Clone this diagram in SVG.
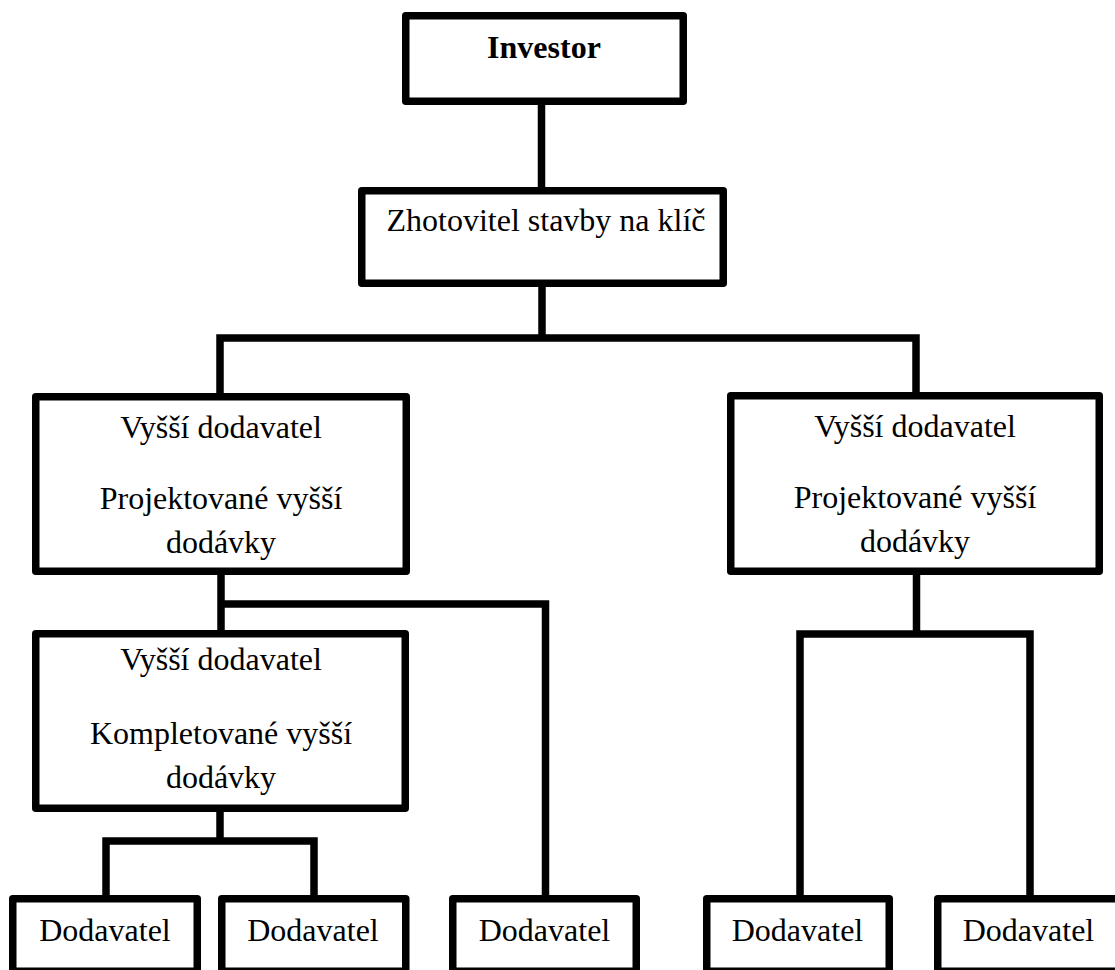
<svg xmlns="http://www.w3.org/2000/svg" width="1115" height="970" viewBox="0 0 1115 970">
<style>
.box{fill:#fff;stroke:#000;stroke-width:7.5;stroke-linejoin:round}
.con{fill:none;stroke:#000;stroke-width:7.5;stroke-linejoin:miter;stroke-linecap:butt}
text{font-family:"Liberation Serif","Times New Roman",serif;font-size:32px;fill:#000;text-anchor:middle}
.b{font-weight:bold}
</style>
<rect width="1115" height="970" fill="#fff"/>
<g id="connectors">
<path class="con" d="M541.5,101 V191"/>
<path class="con" d="M542,283 V338"/>
<path class="con" d="M220,397 V338 H916 V396"/>
<path class="con" d="M221,571 V634"/>
<path class="con" d="M221,604 H545.5 V899"/>
<path class="con" d="M220,808 V841"/>
<path class="con" d="M106,899 V841 H314 V899"/>
<path class="con" d="M916.5,571 V634"/>
<path class="con" d="M800,899 V634 H1030 V899"/>
</g>
<g id="investor">
<rect class="box" x="405.75" y="15.75" width="277.5" height="85.5"/>
<text class="b" x="544" y="58">Investor</text>
</g>
<g id="zhotovitel">
<rect class="box" x="361.75" y="190.75" width="361.5" height="92.5"/>
<text x="546" y="231">Zhotovitel stavby na klíč</text>
</g>
<g id="vyssi-a">
<rect class="box" x="35.75" y="396.75" width="370.5" height="174.5"/>
<text x="221" y="438">Vyšší dodavatel</text>
<text x="221" y="509">Projektované vyšší</text>
<text x="221" y="553">dodávky</text>
</g>
<g id="vyssi-b">
<rect class="box" x="730.75" y="395.75" width="368.5" height="175.5"/>
<text x="915" y="437">Vyšší dodavatel</text>
<text x="915" y="508">Projektované vyšší</text>
<text x="915" y="552">dodávky</text>
</g>
<g id="vyssi-c">
<rect class="box" x="35.75" y="633.75" width="369.5" height="174.5"/>
<text x="221" y="670">Vyšší dodavatel</text>
<text x="221" y="744">Kompletované vyšší</text>
<text x="221" y="788">dodávky</text>
</g>
<g id="dodavatel-1">
<rect class="box" x="12.75" y="898.75" width="184.5" height="72.5"/>
<text x="105" y="941">Dodavatel</text>
</g>
<g id="dodavatel-2">
<rect class="box" x="221.75" y="898.75" width="184" height="72.5"/>
<text x="313" y="941">Dodavatel</text>
</g>
<g id="dodavatel-3">
<rect class="box" x="452.75" y="898.75" width="183.5" height="72.5"/>
<text x="544.5" y="941">Dodavatel</text>
</g>
<g id="dodavatel-4">
<rect class="box" x="706.75" y="898.75" width="182.5" height="72.5"/>
<text x="797.5" y="941">Dodavatel</text>
</g>
<g id="dodavatel-5">
<rect class="box" x="937.75" y="898.75" width="182.5" height="72.5"/>
<text x="1028.5" y="941">Dodavatel</text>
</g>
</svg>
